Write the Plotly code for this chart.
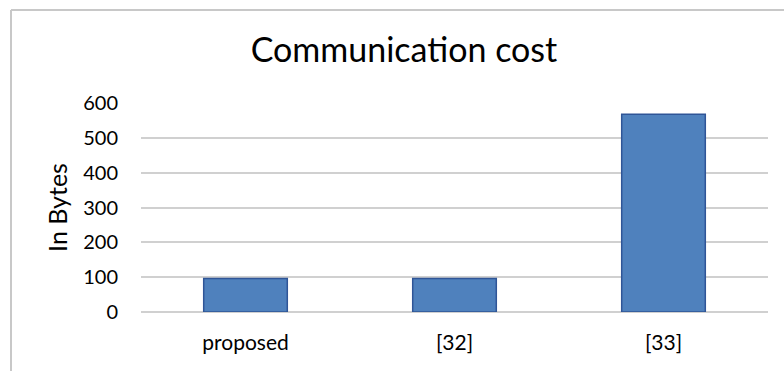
import plotly.graph_objects as go

categories = ["proposed", "[32]", "[33]"]
values = [96, 96, 568]
y_ticks = [0, 100, 200, 300, 400, 500, 600]

W, H = 784, 371
L, R, T, B = 141, 16, 103, 59
pw, ph = W - L - R, H - T - B

def px_to_x(p):
    return (p - L) / pw

def px_to_y(p):
    return (H - B - p) / ph

fig = go.Figure(go.Bar(
    x=categories, y=values,
    marker=dict(color="#4F81BD", line=dict(color="#2F5597", width=1.5)),
    width=0.4,
))

fig.update_layout(
    width=W, height=H,
    margin=dict(l=L, r=R, t=T, b=B),
    paper_bgcolor="white", plot_bgcolor="white",
    font=dict(family="Lato, Open Sans, sans-serif", color="#000000"),
    title=dict(text="Communication cost", x=px_to_x(404), xref="paper",
               y=1 - 50 / H, yref="container", xanchor="center", yanchor="middle",
               font=dict(size=34, color="#000000")),
    showlegend=False,
    bargap=0.6,
)
fig.update_xaxes(showgrid=False, showline=False, ticks="", tickfont=dict(size=21),
                 ticklabelstandoff=16)
fig.update_yaxes(range=[0, 600], tickvals=y_ticks, showgrid=True, gridcolor="#D0D0D0",
                 gridwidth=1.5, zeroline=True, zerolinecolor="#D0D0D0", zerolinewidth=1.5,
                 tickfont=dict(size=20), ticklabelstandoff=22,
                 title=dict(text="In Bytes", font=dict(size=25), standoff=8))

# outer chart border (top and left visible)
fig.add_shape(type="line", xref="paper", yref="paper",
              x0=px_to_x(11), x1=px_to_x(W + 5),
              y0=px_to_y(10), y1=px_to_y(10),
              line=dict(color="#C8C8C8", width=2), layer="above")
fig.add_shape(type="line", xref="paper", yref="paper",
              x0=px_to_x(11), x1=px_to_x(11),
              y0=px_to_y(H + 5), y1=px_to_y(10),
              line=dict(color="#C8C8C8", width=2), layer="above")

fig.write_html("out.html", config={"displayModeBar": False})
